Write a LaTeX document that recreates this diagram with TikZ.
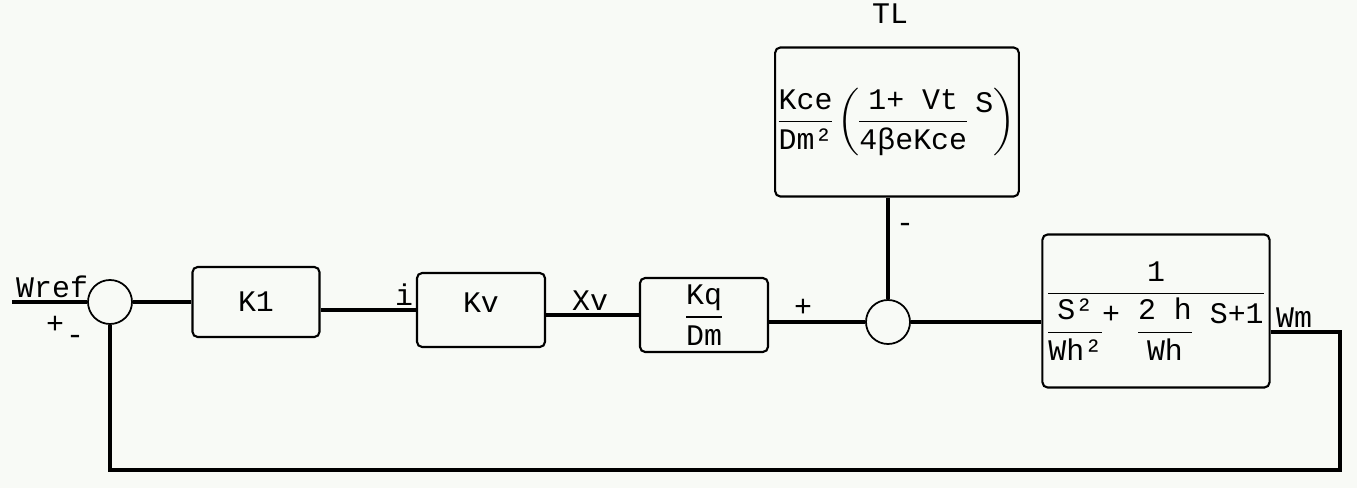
\documentclass[tikz,border=0pt]{standalone}
\usepackage{amsmath}
\usepackage{fontspec}
\setmainfont{Liberation Mono}
\usetikzlibrary{positioning}
\definecolor{paper}{rgb}{0.973,0.980,0.965}

\newcommand{\tx}[1]{\text{#1}}
\newcommand{\up}[1]{\raisebox{4.5pt}{#1}}
\AtBeginDocument{\nulldelimiterspace=0pt}

\begin{document}
\begin{tikzpicture}[
  x=0.01cm, y=-0.01cm,
  font=\fontsize{8.5}{10}\selectfont,
  blk/.style={
    draw=black, line width=0.6pt, rounded corners=1.5pt,
    inner sep=1pt, align=center
  },
  sumpt/.style={
    draw=black, line width=0.5pt, circle,
    minimum size=0.44cm, inner sep=0pt
  },
  sig/.style={line width=0.9pt},
  lbl/.style={inner sep=1pt},
]
  \fill[paper] (0,0) rectangle (1357,488);
  \useasboundingbox (0,0) rectangle (1357,488);

  % summing points
  \node[sumpt] (sumA) at (110,302) {};
  \node[sumpt] (sumB) at (888,322) {};

  % forward path blocks
  \node[blk, minimum width=1.27cm, minimum height=0.70cm] (k1) at (256,302) {K1};
  \node[blk, minimum width=1.28cm, minimum height=0.74cm] (kv) at (481,310)
    {\raisebox{0.14cm}{Kv}};
  \node[blk, minimum width=1.28cm, minimum height=0.74cm] (kq) at (704,315)
    {$\dfrac{\tx{Kq}}{\tx{Dm}}$};
  \node[blk, minimum width=2.40cm, minimum height=1.49cm] (tl) at (897,122)
    {\raisebox{0.24cm}{$\dfrac{\tx{Kce}}{\tx{Dm²}}\left(\dfrac{\tx{1+ Vt}}{\tx{4βeKce}}\;\up{\tx{S}}\right)$}};
  \node[blk, minimum width=2.27cm, minimum height=1.53cm, inner sep=0.5pt] (plant) at (1156,311)
    {$\dfrac{\tx{1}}{\dfrac{\tx{S²}}{\tx{Wh²}}\up{\tx{+ }}\dfrac{\tx{2 h}}{\tx{Wh}}\up{\tx{ S+1}}}$};

  \coordinate (in) at (12,302);
  \coordinate (fbR) at (1340,332);
  \coordinate (fbC) at (1340,470);

  % connectors
  \draw[sig] (in) -- (sumA);
  \draw[sig] (sumA) -- (k1);
  \draw[sig] (k1.east |- kv) -- (kv.west);
  \draw[sig] (kv.east |- kq) -- (kq.west);
  \draw[sig] (kq.east |- sumB) -- (sumB);
  \draw[sig] (tl.south -| sumB) -- (sumB);
  \draw[sig] (sumB) -- (plant.west |- sumB);
  \draw[sig] (plant.east |- fbR) -- (fbR) -- (fbC) -| (sumA.south);

  % signal labels
  \node[lbl, anchor=south west] (wref) at (in) {Wref};
  \node[lbl] (pA) at (55,325) {+};
  \node[lbl] (mA) at (75,340) {-};
  \node[lbl, anchor=south] (ilbl) at (404,310) {i};
  \node[lbl, anchor=south] (xv) at (590,315) {Xv};
  \node[lbl, anchor=south] (pB) at (803,321) {+};
  \node[lbl] (mB) at (905,228) {-};
  \node[lbl] (tload) at (890,14) {TL};
  \node[lbl, anchor=south] (wm) at (1294,332) {Wm};
\end{tikzpicture}
\end{document}
